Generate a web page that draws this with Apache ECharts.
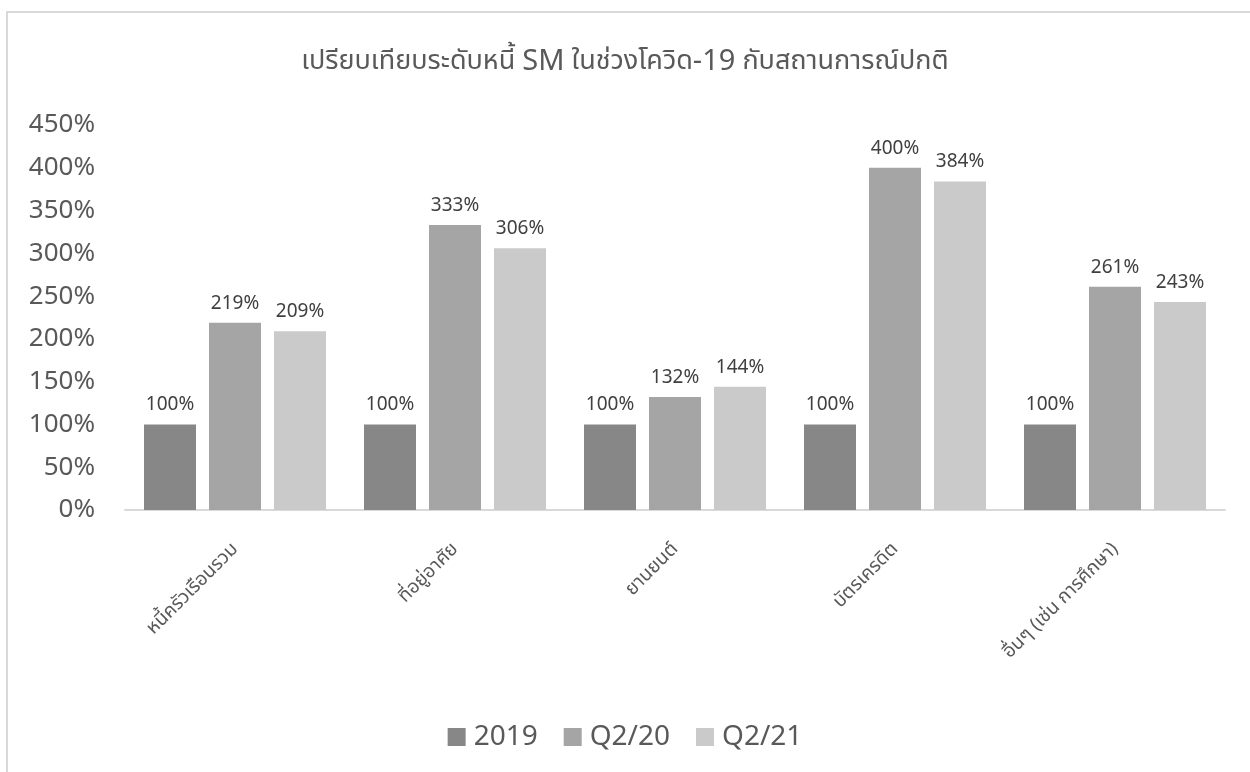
<!DOCTYPE html>
<html>
<head>
<meta charset="utf-8">
<script src="https://cdn.jsdelivr.net/npm/echarts@6/dist/echarts.min.js"></script>
<style>
  html, body { margin: 0; padding: 0; background: #fff; }
  #chart { width: 1250px; height: 772px; }
</style>
</head>
<body>
<div id="chart"></div>
<script>
const categories = ["หนี้ครัวเรือนรวม", "ที่อยู่อาศัย", "ยานยนต์", "บัตรเครดิต", "อื่นๆ (เช่น การศึกษา)"];
const seriesNames = ["2019", "Q2/20", "Q2/21"];
const values2019 = [100, 100, 100, 100, 100];
const valuesQ220 = [219, 333, 132, 400, 261];
const valuesQ221 = [209, 306, 144, 384, 243];
const colors = ["#878787", "#a5a5a5", "#cacaca"];

const font = "'Noto Sans', 'Noto Sans Thai', 'DejaVu Sans', sans-serif";
const chart = echarts.init(document.getElementById("chart"));

const mkSeries = (name, data, color) => ({
  name,
  type: "bar",
  data,
  barWidth: 52,
  barGap: "25%",
  itemStyle: { color },
  label: {
    show: true,
    position: "top",
    distance: 10,
    formatter: "{c}%",
    fontFamily: font,
    fontSize: 19,
    color: "#404040"
  }
});

chart.setOption({
  animation: false,
  color: colors,
  graphic: [{
    type: "rect",
    shape: { x: 7, y: 12, width: 1300, height: 800 },
    style: { fill: "none", stroke: "#d9d9d9", lineWidth: 2 }
  }],
  title: {
    text: "เปรียบเทียบระดับหนี้ {b|SM} ในช่วงโควิด{b|-19} กับสถานการณ์ปกติ",
    left: "center",
    top: 42,
    textStyle: {
      fontFamily: font,
      fontSize: 27,
      fontWeight: "normal",
      color: "#595959",
      rich: {
        b: { fontFamily: font, fontSize: 29, color: "#595959" }
      }
    }
  },
  legend: {
    data: seriesNames,
    bottom: 16,
    left: "center",
    itemWidth: 18,
    itemHeight: 18,
    itemGap: 26,
    icon: "rect",
    textStyle: { fontFamily: font, fontSize: 28, color: "#595959", padding: [0, 0, 0, 3] }
  },
  grid: { left: 125, right: 25, top: 125, bottom: 262, containLabel: false },
  xAxis: {
    type: "category",
    data: categories,
    axisLine: { lineStyle: { color: "#d9d9d9", width: 2 } },
    axisTick: { show: false },
    axisLabel: {
      rotate: 45,
      interval: 0,
      margin: 36,
      fontFamily: font,
      fontSize: 19,
      color: "#595959"
    }
  },
  yAxis: {
    type: "value",
    min: 0,
    max: 450,
    interval: 50,
    axisLine: { show: false },
    axisTick: { show: false },
    splitLine: { show: false },
    axisLabel: {
      formatter: "{value}%",
      fontFamily: font,
      fontSize: 26,
      color: "#595959",
      margin: 30
    }
  },
  series: [
    mkSeries(seriesNames[0], values2019, colors[0]),
    mkSeries(seriesNames[1], valuesQ220, colors[1]),
    mkSeries(seriesNames[2], valuesQ221, colors[2])
  ]
});
</script>
</body>
</html>
